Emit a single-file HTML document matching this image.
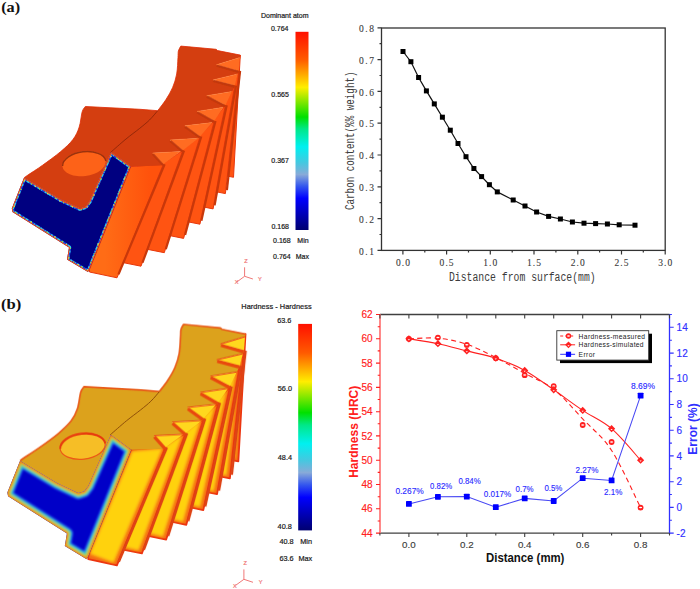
<!DOCTYPE html><html><head><meta charset="utf-8"><style>html,body{margin:0;padding:0;background:#fff;}svg{display:block;}text{font-family:"Liberation Sans",sans-serif;}</style></head><body>
<svg width="700" height="589" viewBox="0 0 700 589">
<rect width="700" height="589" fill="#fff"/>
<defs>
<linearGradient id="cbar" x1="0" y1="0" x2="0" y2="1"><stop offset="0" stop-color="#ff1000"/><stop offset="0.14" stop-color="#ff5a00"/><stop offset="0.28" stop-color="#ffee00"/><stop offset="0.43" stop-color="#00e000"/><stop offset="0.49" stop-color="#00e888"/><stop offset="0.58" stop-color="#00f0f0"/><stop offset="0.66" stop-color="#44c8e0"/><stop offset="0.72" stop-color="#88aad8"/><stop offset="0.78" stop-color="#3355ee"/><stop offset="0.84" stop-color="#0000ff"/><stop offset="1" stop-color="#000070"/></linearGradient>
<filter id="soft2" x="-20%" y="-20%" width="140%" height="140%"><feGaussianBlur stdDeviation="1.3"/></filter>
<linearGradient id="t1a" gradientUnits="userSpaceOnUse" x1="105" y1="0" x2="150" y2="0"><stop offset="0" stop-color="#ff6c16"/><stop offset="1" stop-color="#ff520c"/></linearGradient>
<filter id="soft05" x="-20%" y="-20%" width="140%" height="140%"><feGaussianBlur stdDeviation="0.45"/></filter>
<filter id="soft10" x="-20%" y="-20%" width="140%" height="140%"><feGaussianBlur stdDeviation="1.0"/></filter>
<filter id="soft" x="-20%" y="-20%" width="140%" height="140%"><feGaussianBlur stdDeviation="0.7"/></filter>
</defs>
<text x="1.2" y="12.4" font-weight="bold" font-size="15.5" fill="#111" textLength="19" lengthAdjust="spacingAndGlyphs" style="font-family:'Liberation Serif',serif">(a)</text>
<text x="1" y="309.2" style="font-family:'Liberation Serif',serif" font-weight="bold" font-size="15.5" fill="#111" textLength="20.3" lengthAdjust="spacingAndGlyphs">(b)</text>
<g><polygon points="240.3,55.1 233.5,177.3 225.82,175.76 237.3,70.9" fill="#ff5412" stroke="#e8380c" stroke-width="1" stroke-linejoin="round"/>
<polygon points="238.8,70.9 225.4,193.6 214.61,191.44 233.2,85.6" fill="#ff5412" stroke="#e8380c" stroke-width="1" stroke-linejoin="round"/>
<polygon points="234.7,85.6 213.1,208.9 202.09,206.7 223.9,105.3" fill="#ff5412" stroke="#e8380c" stroke-width="1" stroke-linejoin="round"/>
<polygon points="225.4,105.3 199.9,224.2 186.43,221.51 212.7,121" fill="#ff5412" stroke="#e8380c" stroke-width="1" stroke-linejoin="round"/>
<polygon points="214.2,121 183.6,238.4 168.06,235.29 198.5,136.5" fill="#ff5412" stroke="#e8380c" stroke-width="1" stroke-linejoin="round"/>
<polygon points="200,136.5 164.3,252.7 145.61,248.96 181.2,150.5" fill="#ff5412" stroke="#e8380c" stroke-width="1" stroke-linejoin="round"/>
<polygon points="182.7,150.5 141,266.2 121.69,262.34 161.8,164.3" fill="#ff5412" stroke="#e8380c" stroke-width="1" stroke-linejoin="round"/>
<polygon points="163.3,164.3 117,277.8 89.5,272 89.5,269.5 130.8,166.6" fill="url(#t1a)" stroke="#e8380c" stroke-width="1" stroke-linejoin="round"/>
<line x1="164.6" y1="164.3" x2="118.5" y2="274.3" stroke="#c8380a" stroke-width="2.2" />
<line x1="184" y1="150.5" x2="142.5" y2="262.7" stroke="#c8380a" stroke-width="2.2" />
<line x1="201.3" y1="136.5" x2="165.8" y2="249.2" stroke="#c8380a" stroke-width="2.2" />
<line x1="215.5" y1="121" x2="185.1" y2="234.9" stroke="#c8380a" stroke-width="2.2" />
<line x1="226.7" y1="105.3" x2="201.4" y2="220.7" stroke="#c8380a" stroke-width="2.2" />
<line x1="236" y1="85.6" x2="214.6" y2="205.4" stroke="#c8380a" stroke-width="2.2" />
<line x1="240.1" y1="70.9" x2="226.9" y2="190.1" stroke="#c8380a" stroke-width="2.2" />
<path d="M180.8,46.1L216.2,49.3L217.6,50.6L240.3,55.1L239.8,57.6L216.4,64.8L238.8,70.9L237.8,73.9L212.8,80L234.7,85.6L232,91.5L206.6,95.7L225.4,105.3L223.4,107.3L196.9,111.4L214.2,121L212.2,122.6L184.7,125.8L200,136.5L198.5,138.3L170,139.9L182.7,150.5L180.6,151.6L152.6,153.1L163.3,164.3L161,165.5L130.8,166.6L111.1,152.3L89.5,201.5L85.5,206.8L80,208.6L60,199.3L24,177.8C24.67,177.33 24.92,177.08 28,175C31.08,172.92 37.03,169.22 42.5,165.3C47.97,161.38 55.7,155.83 60.8,151.5C65.9,147.17 70.03,143.37 73.1,139.3C76.17,135.23 77.68,131.68 79.2,127.1C80.72,122.52 81.18,115.23 82.2,111.8C83.22,108.37 84.78,107.38 85.3,106.5L140,109.3L157.7,110.7C159.05,108.88 163.32,103.65 165.8,99.8C168.28,95.95 170.78,91.9 172.6,87.6C174.42,83.3 175.8,78.98 176.7,74C177.6,69.02 177.72,61.53 178,57.7C178.28,53.87 177.93,52.93 178.4,51C178.87,49.07 180.4,46.92 180.8,46.1Z" fill="#d43e10"/>
<path d="M157.7,110.7" fill="none" stroke="#e0300a" stroke-width="1" stroke-linejoin="round" filter="url(#soft)" opacity="0.85"/>
<path d="M157.7,110.7C159.05,108.88 163.32,103.65 165.8,99.8C168.28,95.95 170.78,91.9 172.6,87.6C174.42,83.3 175.8,78.98 176.7,74C177.6,69.02 177.72,61.53 178,57.7C178.28,53.87 177.93,52.93 178.4,51C178.87,49.07 180.4,46.92 180.8,46.1L216.2,49.3L217.6,50.6L240.3,55.1" fill="none" stroke="#e0300a" stroke-width="1" stroke-linejoin="round" filter="url(#soft)" opacity="0.85"/>
<path d="M24,177.8C24.67,177.33 24.92,177.08 28,175C31.08,172.92 37.03,169.22 42.5,165.3C47.97,161.38 55.7,155.83 60.8,151.5C65.9,147.17 70.03,143.37 73.1,139.3C76.17,135.23 77.68,131.68 79.2,127.1C80.72,122.52 81.18,115.23 82.2,111.8C83.22,108.37 84.78,107.38 85.3,106.5L140,109.3L157.7,110.7" fill="none" stroke="#e0300a" stroke-width="1" stroke-linejoin="round" filter="url(#soft)" opacity="0.85"/>
<polygon points="239.8,57.6 216.4,64.8 238.8,70.9" fill="#ff6c22"/>
<polyline points="216.67,65.7 238.62,71.8" fill="none" stroke="#c0380a" stroke-width="2.4" filter="url(#soft)" opacity="0.85"/>
<polyline points="239.8,57.6 216.4,64.8" fill="none" stroke="#ff7a30" stroke-width="0.6" stroke-linejoin="round" filter="url(#soft)" opacity="0.85"/>
<polygon points="237.8,73.9 212.8,80 234.7,85.6" fill="#ff6c22"/>
<polyline points="213.07,80.9 234.52,86.5" fill="none" stroke="#c0380a" stroke-width="2.4" filter="url(#soft)" opacity="0.85"/>
<polyline points="237.8,73.9 212.8,80" fill="none" stroke="#ff7a30" stroke-width="0.6" stroke-linejoin="round" filter="url(#soft)" opacity="0.85"/>
<polygon points="232,91.5 206.6,95.7 225.4,105.3" fill="#ff6c22"/>
<polyline points="206.87,96.6 225.22,106.2" fill="none" stroke="#c0380a" stroke-width="2.4" filter="url(#soft)" opacity="0.85"/>
<polyline points="232,91.5 206.6,95.7" fill="none" stroke="#ff7a30" stroke-width="0.6" stroke-linejoin="round" filter="url(#soft)" opacity="0.85"/>
<polygon points="223.4,107.3 196.9,111.4 214.2,121" fill="#ff6c22"/>
<polyline points="197.17,112.3 214.02,121.9" fill="none" stroke="#c0380a" stroke-width="2.4" filter="url(#soft)" opacity="0.85"/>
<polyline points="223.4,107.3 196.9,111.4" fill="none" stroke="#ff7a30" stroke-width="0.6" stroke-linejoin="round" filter="url(#soft)" opacity="0.85"/>
<polygon points="212.2,122.6 184.7,125.8 200,136.5" fill="#ff6c22"/>
<polyline points="184.97,126.7 199.82,137.4" fill="none" stroke="#c0380a" stroke-width="2.4" filter="url(#soft)" opacity="0.85"/>
<polyline points="212.2,122.6 184.7,125.8" fill="none" stroke="#ff7a30" stroke-width="0.6" stroke-linejoin="round" filter="url(#soft)" opacity="0.85"/>
<polygon points="198.5,138.3 170,139.9 182.7,150.5" fill="#ff6c22"/>
<polyline points="170.27,140.8 182.52,151.4" fill="none" stroke="#c0380a" stroke-width="2.4" filter="url(#soft)" opacity="0.85"/>
<polyline points="198.5,138.3 170,139.9" fill="none" stroke="#ff7a30" stroke-width="0.6" stroke-linejoin="round" filter="url(#soft)" opacity="0.85"/>
<polygon points="180.6,151.6 152.6,153.1 163.3,164.3" fill="#ff6c22"/>
<polyline points="152.87,154 163.12,165.2" fill="none" stroke="#c0380a" stroke-width="2.4" filter="url(#soft)" opacity="0.85"/>
<polyline points="180.6,151.6 152.6,153.1" fill="none" stroke="#ff7a30" stroke-width="0.6" stroke-linejoin="round" filter="url(#soft)" opacity="0.85"/>
<path d="M157.7,110.7C156.33,112.25 152.53,117.03 149.5,120C146.47,122.97 143.42,125.33 139.5,128.5C135.58,131.67 130.83,135 126,139C121.17,143 113.08,150.25 110.5,152.5" fill="none" stroke="#7a1e06" stroke-width="0.7"/>
<ellipse cx="84" cy="163.5" rx="21.8" ry="12.5" transform="rotate(-7 84 163.5)" fill="#fd6218" stroke="none" stroke-width="0"/>
<path d="M62.6,166 A21.8,12.5 -7 0 1 105.8,160.8" transform="rotate(0)" fill="none" stroke="#8a2a0a" stroke-width="1.4" filter="url(#soft)" opacity="0.85"/>
<clipPath id="lca"><polygon points="24,177.8 60,199.3 80,208.6 85.5,206.8 89.5,201.5 111.1,152.3 130.8,166.6 89.5,269.5 88,272 67,259.5 69,247.5 12.5,212 11.8,208.5 24,177.8"/></clipPath>
<polygon points="24,177.8 60,199.3 80,208.6 85.5,206.8 89.5,201.5 111.1,152.3 130.8,166.6 89.5,269.5 88,272 67,259.5 69,247.5 12.5,212 11.8,208.5 24,177.8" fill="#000080"/>
<g clip-path="url(#lca)" filter="url(#soft05)">
<polygon points="24,177.8 60,199.3 80,208.6 85.5,206.8 89.5,201.5 111.1,152.3 130.8,166.6 89.5,269.5 88,272 67,259.5 69,247.5 12.5,212 11.8,208.5 24,177.8" fill="none" stroke="#1840e0" stroke-width="4.6" stroke-linejoin="round" />
<polygon points="24,177.8 60,199.3 80,208.6 85.5,206.8 89.5,201.5 111.1,152.3 130.8,166.6 89.5,269.5 88,272 67,259.5 69,247.5 12.5,212 11.8,208.5 24,177.8" fill="none" stroke="#30d8e0" stroke-width="4.2" stroke-linejoin="round" stroke-dasharray="2,2,3,1.5,1,3"/>
<polygon points="24,177.8 60,199.3 80,208.6 85.5,206.8 89.5,201.5 111.1,152.3 130.8,166.6 89.5,269.5 88,272 67,259.5 69,247.5 12.5,212 11.8,208.5 24,177.8" fill="none" stroke="#90e040" stroke-width="4.2" stroke-linejoin="round" stroke-dasharray="1.2,8"/>
<polygon points="24,177.8 60,199.3 80,208.6 85.5,206.8 89.5,201.5 111.1,152.3 130.8,166.6 89.5,269.5 88,272 67,259.5 69,247.5 12.5,212 11.8,208.5 24,177.8" fill="none" stroke="#ffe040" stroke-width="4.2" stroke-linejoin="round" stroke-dasharray="1,13"/>
<polygon points="24,177.8 60,199.3 80,208.6 85.5,206.8 89.5,201.5 111.1,152.3 130.8,166.6 89.5,269.5 88,272 67,259.5 69,247.5 12.5,212 11.8,208.5 24,177.8" fill="none" stroke="#ff4a10" stroke-width="1.9" stroke-linejoin="round" />
</g></g>
<g transform="matrix(1.04183,0.00597,-0.00075,1.04166,-4.785,275.337)"><polygon points="240.3,55.1 233.5,177.3 225.82,175.76 237.3,70.9" fill="#f46a16" stroke="#ec3410" stroke-width="1.7" stroke-linejoin="round"/>
<polygon points="237.7,55.88 230.38,174.7 225.82,173.16 237.3,70.9" fill="#ffd20e" filter="url(#soft2)"/>
<polygon points="238.8,70.9 225.4,193.6 214.61,191.44 233.2,85.6" fill="#f46a16" stroke="#ec3410" stroke-width="1.7" stroke-linejoin="round"/>
<polygon points="236.2,71.68 222.28,191 214.61,188.84 233.2,85.6" fill="#ffd20e" filter="url(#soft2)"/>
<polygon points="234.7,85.6 213.1,208.9 202.09,206.7 223.9,105.3" fill="#f46a16" stroke="#ec3410" stroke-width="1.7" stroke-linejoin="round"/>
<polygon points="232.1,86.38 209.98,206.3 202.09,204.1 223.9,105.3" fill="#ffd20e" filter="url(#soft2)"/>
<polygon points="225.4,105.3 199.9,224.2 186.43,221.51 212.7,121" fill="#f46a16" stroke="#ec3410" stroke-width="1.7" stroke-linejoin="round"/>
<polygon points="222.8,106.08 196.78,221.6 186.43,218.91 212.7,121" fill="#ffd20e" filter="url(#soft2)"/>
<polygon points="214.2,121 183.6,238.4 168.06,235.29 198.5,136.5" fill="#f46a16" stroke="#ec3410" stroke-width="1.7" stroke-linejoin="round"/>
<polygon points="211.6,121.78 180.48,235.8 168.06,232.69 198.5,136.5" fill="#ffd20e" filter="url(#soft2)"/>
<polygon points="200,136.5 164.3,252.7 145.61,248.96 181.2,150.5" fill="#f46a16" stroke="#ec3410" stroke-width="1.7" stroke-linejoin="round"/>
<polygon points="197.4,137.28 161.18,250.1 145.61,246.36 181.2,150.5" fill="#ffd20e" filter="url(#soft2)"/>
<polygon points="182.7,150.5 141,266.2 121.69,262.34 161.8,164.3" fill="#f46a16" stroke="#ec3410" stroke-width="1.7" stroke-linejoin="round"/>
<polygon points="180.1,151.28 137.88,263.6 121.69,259.74 161.8,164.3" fill="#ffd20e" filter="url(#soft2)"/>
<polygon points="163.3,164.3 117,277.8 89.5,272 89.5,269.5 130.8,166.6" fill="#f46a16" stroke="#ec3410" stroke-width="1.7" stroke-linejoin="round"/>
<polygon points="160.7,165.08 113.88,275.2 91.06,266.9 131.58,167.9" fill="#ffd20e" filter="url(#soft2)"/>
<line x1="164.8" y1="164.3" x2="118.7" y2="274.3" stroke="#de4212" stroke-width="2.6" filter="url(#soft)"/>
<line x1="184.2" y1="150.5" x2="142.7" y2="262.7" stroke="#de4212" stroke-width="2.6" filter="url(#soft)"/>
<line x1="201.5" y1="136.5" x2="166" y2="249.2" stroke="#de4212" stroke-width="2.6" filter="url(#soft)"/>
<line x1="215.7" y1="121" x2="185.3" y2="234.9" stroke="#de4212" stroke-width="2.6" filter="url(#soft)"/>
<line x1="226.9" y1="105.3" x2="201.6" y2="220.7" stroke="#de4212" stroke-width="2.6" filter="url(#soft)"/>
<line x1="236.2" y1="85.6" x2="214.8" y2="205.4" stroke="#de4212" stroke-width="2.6" filter="url(#soft)"/>
<line x1="240.3" y1="70.9" x2="227.1" y2="190.1" stroke="#de4212" stroke-width="2.6" filter="url(#soft)"/>
<path d="M180.8,46.1L216.2,49.3L217.6,50.6L240.3,55.1L239.8,57.6L216.4,64.8L238.8,70.9L237.8,73.9L212.8,80L234.7,85.6L232,91.5L206.6,95.7L225.4,105.3L223.4,107.3L196.9,111.4L214.2,121L212.2,122.6L184.7,125.8L200,136.5L198.5,138.3L170,139.9L182.7,150.5L180.6,151.6L152.6,153.1L163.3,164.3L161,165.5L130.8,166.6L111.1,152.3L89.5,201.5L85.5,206.8L80,208.6L60,199.3L24,177.8C24.67,177.33 24.92,177.08 28,175C31.08,172.92 37.03,169.22 42.5,165.3C47.97,161.38 55.7,155.83 60.8,151.5C65.9,147.17 70.03,143.37 73.1,139.3C76.17,135.23 77.68,131.68 79.2,127.1C80.72,122.52 81.18,115.23 82.2,111.8C83.22,108.37 84.78,107.38 85.3,106.5L140,109.3L157.7,110.7C159.05,108.88 163.32,103.65 165.8,99.8C168.28,95.95 170.78,91.9 172.6,87.6C174.42,83.3 175.8,78.98 176.7,74C177.6,69.02 177.72,61.53 178,57.7C178.28,53.87 177.93,52.93 178.4,51C178.87,49.07 180.4,46.92 180.8,46.1Z" fill="#dca21c"/>
<path d="M157.7,110.7" fill="none" stroke="#e85a18" stroke-width="1.6" stroke-linejoin="round" filter="url(#soft)"/>
<path d="M157.7,110.7C159.05,108.88 163.32,103.65 165.8,99.8C168.28,95.95 170.78,91.9 172.6,87.6C174.42,83.3 175.8,78.98 176.7,74C177.6,69.02 177.72,61.53 178,57.7C178.28,53.87 177.93,52.93 178.4,51C178.87,49.07 180.4,46.92 180.8,46.1L216.2,49.3L217.6,50.6L240.3,55.1" fill="none" stroke="#e85a18" stroke-width="1.6" stroke-linejoin="round" filter="url(#soft)"/>
<path d="M24,177.8C24.67,177.33 24.92,177.08 28,175C31.08,172.92 37.03,169.22 42.5,165.3C47.97,161.38 55.7,155.83 60.8,151.5C65.9,147.17 70.03,143.37 73.1,139.3C76.17,135.23 77.68,131.68 79.2,127.1C80.72,122.52 81.18,115.23 82.2,111.8C83.22,108.37 84.78,107.38 85.3,106.5L140,109.3L157.7,110.7" fill="none" stroke="#e85a18" stroke-width="1.6" stroke-linejoin="round" filter="url(#soft)"/>
<polygon points="239.8,57.6 216.4,64.8 238.8,70.9" fill="#ffd81e"/>
<polyline points="216.76,66 238.56,72.1" fill="none" stroke="#e84a10" stroke-width="3.2" filter="url(#soft)"/>
<polyline points="239.8,57.6 216.4,64.8" fill="none" stroke="#e83a10" stroke-width="1" stroke-linejoin="round" filter="url(#soft)"/>
<polygon points="237.8,73.9 212.8,80 234.7,85.6" fill="#ffd81e"/>
<polyline points="213.16,81.2 234.46,86.8" fill="none" stroke="#e84a10" stroke-width="3.2" filter="url(#soft)"/>
<polyline points="237.8,73.9 212.8,80" fill="none" stroke="#e83a10" stroke-width="1" stroke-linejoin="round" filter="url(#soft)"/>
<polygon points="232,91.5 206.6,95.7 225.4,105.3" fill="#ffd81e"/>
<polyline points="206.96,96.9 225.16,106.5" fill="none" stroke="#e84a10" stroke-width="3.2" filter="url(#soft)"/>
<polyline points="232,91.5 206.6,95.7" fill="none" stroke="#e83a10" stroke-width="1" stroke-linejoin="round" filter="url(#soft)"/>
<polygon points="223.4,107.3 196.9,111.4 214.2,121" fill="#ffd81e"/>
<polyline points="197.26,112.6 213.96,122.2" fill="none" stroke="#e84a10" stroke-width="3.2" filter="url(#soft)"/>
<polyline points="223.4,107.3 196.9,111.4" fill="none" stroke="#e83a10" stroke-width="1" stroke-linejoin="round" filter="url(#soft)"/>
<polygon points="212.2,122.6 184.7,125.8 200,136.5" fill="#ffd81e"/>
<polyline points="185.06,127 199.76,137.7" fill="none" stroke="#e84a10" stroke-width="3.2" filter="url(#soft)"/>
<polyline points="212.2,122.6 184.7,125.8" fill="none" stroke="#e83a10" stroke-width="1" stroke-linejoin="round" filter="url(#soft)"/>
<polygon points="198.5,138.3 170,139.9 182.7,150.5" fill="#ffd81e"/>
<polyline points="170.36,141.1 182.46,151.7" fill="none" stroke="#e84a10" stroke-width="3.2" filter="url(#soft)"/>
<polyline points="198.5,138.3 170,139.9" fill="none" stroke="#e83a10" stroke-width="1" stroke-linejoin="round" filter="url(#soft)"/>
<polygon points="180.6,151.6 152.6,153.1 163.3,164.3" fill="#ffd81e"/>
<polyline points="152.96,154.3 163.06,165.5" fill="none" stroke="#e84a10" stroke-width="3.2" filter="url(#soft)"/>
<polyline points="180.6,151.6 152.6,153.1" fill="none" stroke="#e83a10" stroke-width="1" stroke-linejoin="round" filter="url(#soft)"/>
<path d="M157.7,110.7C156.33,112.25 152.53,117.03 149.5,120C146.47,122.97 143.42,125.33 139.5,128.5C135.58,131.67 130.83,135 126,139C121.17,143 113.08,150.25 110.5,152.5" fill="none" stroke="#8a4a08" stroke-width="0.9"/>
<ellipse cx="84" cy="163.5" rx="21.8" ry="12.5" transform="rotate(-7 84 163.5)" fill="#f6be26" stroke="#ec5a16" stroke-width="1.2"/>
<path d="M62.6,166 A21.8,12.5 -7 0 1 105.8,160.8" transform="rotate(0)" fill="none" stroke="#e63a10" stroke-width="1.8" filter="url(#soft)"/>
<clipPath id="lcb"><polygon points="24,177.8 60,199.3 80,208.6 85.5,206.8 89.5,201.5 111.1,152.3 130.8,166.6 89.5,269.5 88,272 67,259.5 69,247.5 12.5,212 11.8,208.5 24,177.8"/></clipPath>
<polygon points="24,177.8 60,199.3 80,208.6 85.5,206.8 89.5,201.5 111.1,152.3 130.8,166.6 89.5,269.5 88,272 67,259.5 69,247.5 12.5,212 11.8,208.5 24,177.8" fill="#0000c8"/>
<g clip-path="url(#lcb)" filter="url(#soft10)">
<polygon points="24,177.8 60,199.3 80,208.6 85.5,206.8 89.5,201.5 111.1,152.3 130.8,166.6 89.5,269.5 88,272 67,259.5 69,247.5 12.5,212 11.8,208.5 24,177.8" fill="none" stroke="#3060f0" stroke-width="11.5" stroke-linejoin="round" />
<polygon points="24,177.8 60,199.3 80,208.6 85.5,206.8 89.5,201.5 111.1,152.3 130.8,166.6 89.5,269.5 88,272 67,259.5 69,247.5 12.5,212 11.8,208.5 24,177.8" fill="none" stroke="#30c0f0" stroke-width="9.4" stroke-linejoin="round" />
<polygon points="24,177.8 60,199.3 80,208.6 85.5,206.8 89.5,201.5 111.1,152.3 130.8,166.6 89.5,269.5 88,272 67,259.5 69,247.5 12.5,212 11.8,208.5 24,177.8" fill="none" stroke="#38d078" stroke-width="7.4" stroke-linejoin="round" />
<polygon points="24,177.8 60,199.3 80,208.6 85.5,206.8 89.5,201.5 111.1,152.3 130.8,166.6 89.5,269.5 88,272 67,259.5 69,247.5 12.5,212 11.8,208.5 24,177.8" fill="none" stroke="#d0d830" stroke-width="5.2" stroke-linejoin="round" />
<polygon points="24,177.8 60,199.3 80,208.6 85.5,206.8 89.5,201.5 111.1,152.3 130.8,166.6 89.5,269.5 88,272 67,259.5 69,247.5 12.5,212 11.8,208.5 24,177.8" fill="none" stroke="#f0a020" stroke-width="3.2" stroke-linejoin="round" />
<polygon points="24,177.8 60,199.3 80,208.6 85.5,206.8 89.5,201.5 111.1,152.3 130.8,166.6 89.5,269.5 88,272 67,259.5 69,247.5 12.5,212 11.8,208.5 24,177.8" fill="none" stroke="#f06018" stroke-width="1.6" stroke-linejoin="round" />
</g></g>
<rect x="295.5" y="31.8" width="13" height="198.2" fill="url(#cbar)"/>
<rect x="298.2" y="323.9" width="13.8" height="206.5" fill="url(#cbar)"/>
<text x="261" y="17.8" font-size="7" text-anchor="start" fill="#1a1a1a" stroke="#1a1a1a" stroke-width="0.2" >Dominant atom</text>
<text x="288.5" y="30.5" font-size="7" text-anchor="end" fill="#1a1a1a" stroke="#1a1a1a" stroke-width="0.2" >0.764</text>
<text x="288.9" y="97.4" font-size="7" text-anchor="end" fill="#1a1a1a" stroke="#1a1a1a" stroke-width="0.2" >0.565</text>
<text x="288.9" y="162.7" font-size="7" text-anchor="end" fill="#1a1a1a" stroke="#1a1a1a" stroke-width="0.2" >0.367</text>
<text x="289" y="229.4" font-size="7" text-anchor="end" fill="#1a1a1a" stroke="#1a1a1a" stroke-width="0.2" >0.168</text>
<text x="290.6" y="243.1" font-size="7" text-anchor="end" fill="#1a1a1a" stroke="#1a1a1a" stroke-width="0.2" >0.168</text>
<text x="308.6" y="243.1" font-size="7" text-anchor="end" fill="#1a1a1a" stroke="#1a1a1a" stroke-width="0.2" >Min</text>
<text x="290.6" y="258.9" font-size="7" text-anchor="end" fill="#1a1a1a" stroke="#1a1a1a" stroke-width="0.2" >0.764</text>
<text x="308.9" y="258.9" font-size="7" text-anchor="end" fill="#1a1a1a" stroke="#1a1a1a" stroke-width="0.2" >Max</text>
<text x="241.3" y="308.5" font-size="7.4" text-anchor="start" fill="#1a1a1a" stroke="#1a1a1a" stroke-width="0.2" textLength="70.3">Hardness - Hardness</text>
<text x="291.4" y="322.6" font-size="7.3" text-anchor="end" fill="#1a1a1a" stroke="#1a1a1a" stroke-width="0.2" >63.6</text>
<text x="292" y="391.4" font-size="7.3" text-anchor="end" fill="#1a1a1a" stroke="#1a1a1a" stroke-width="0.2" >56.0</text>
<text x="292" y="460" font-size="7.3" text-anchor="end" fill="#1a1a1a" stroke="#1a1a1a" stroke-width="0.2" >48.4</text>
<text x="291.8" y="529.4" font-size="7.3" text-anchor="end" fill="#1a1a1a" stroke="#1a1a1a" stroke-width="0.2" >40.8</text>
<text x="293.6" y="544.1" font-size="7.3" text-anchor="end" fill="#1a1a1a" stroke="#1a1a1a" stroke-width="0.2" >40.8</text>
<text x="312" y="544.1" font-size="7.3" text-anchor="end" fill="#1a1a1a" stroke="#1a1a1a" stroke-width="0.2" >Min</text>
<text x="293.6" y="560.5" font-size="7.3" text-anchor="end" fill="#1a1a1a" stroke="#1a1a1a" stroke-width="0.2" >63.6</text>
<text x="312.2" y="560.5" font-size="7.3" text-anchor="end" fill="#1a1a1a" stroke="#1a1a1a" stroke-width="0.2" >Max</text>
<g stroke="#f07878" stroke-width="1" fill="none"><line x1="244.6" y1="276.3" x2="244.6" y2="267.3"/><line x1="244.6" y1="276.3" x2="252.9" y2="279"/><line x1="244.6" y1="276.3" x2="237.1" y2="281.8"/></g>
<text x="244.3" y="263" font-size="5.6" fill="#f07878" stroke="#f07878" stroke-width="0.2">Z</text>
<text x="258.1" y="280.5" font-size="5.6" fill="#f07878" stroke="#f07878" stroke-width="0.2">Y</text>
<text x="234.8" y="284.3" font-size="5.6" fill="#f07878" stroke="#f07878" stroke-width="0.2">X</text>
<g stroke="#f07878" stroke-width="1" fill="none"><line x1="243.9" y1="579.3" x2="243.9" y2="569.4"/><line x1="243.9" y1="579.3" x2="253" y2="582.3"/><line x1="243.9" y1="579.3" x2="235.7" y2="585.3"/></g>
<text x="243.6" y="564.7" font-size="5.6" fill="#f07878" stroke="#f07878" stroke-width="0.2">Z</text>
<text x="258.8" y="583.9" font-size="5.6" fill="#f07878" stroke="#f07878" stroke-width="0.2">Y</text>
<text x="233.1" y="588.1" font-size="5.6" fill="#f07878" stroke="#f07878" stroke-width="0.2">X</text>
<rect x="381.5" y="28" width="283.7" height="222.4" fill="none" stroke="#333" stroke-width="1.3"/>
<path d="M381.5,250.4h-4M381.5,234.5h-2M381.5,218.6h-4M381.5,202.7h-2M381.5,186.8h-4M381.5,170.9h-2M381.5,155h-4M381.5,139.1h-2M381.5,123.2h-4M381.5,107.3h-2M381.5,91.4h-4M381.5,75.5h-2M381.5,59.6h-4M381.5,43.7h-2M381.5,27.8h-4M402.9,250.4v4M424.8,250.4v2.2M446.6,250.4v4M468.5,250.4v2.2M490.3,250.4v4M512.2,250.4v2.2M534,250.4v4M555.9,250.4v2.2M577.8,250.4v4M599.6,250.4v2.2M621.5,250.4v4M643.3,250.4v2.2M665.2,250.4v4" stroke="#333" stroke-width="1.2" fill="none"/>
<text x="374" y="254.5" font-size="9.5" text-anchor="end" fill="#3a3a3a" stroke="#3a3a3a" stroke-width="0.1" style="font-family:'Liberation Serif',serif" textLength="15" lengthAdjust="spacing">0.1</text>
<text x="374" y="222.7" font-size="9.5" text-anchor="end" fill="#3a3a3a" stroke="#3a3a3a" stroke-width="0.1" style="font-family:'Liberation Serif',serif" textLength="15" lengthAdjust="spacing">0.2</text>
<text x="374" y="190.9" font-size="9.5" text-anchor="end" fill="#3a3a3a" stroke="#3a3a3a" stroke-width="0.1" style="font-family:'Liberation Serif',serif" textLength="15" lengthAdjust="spacing">0.3</text>
<text x="374" y="159.1" font-size="9.5" text-anchor="end" fill="#3a3a3a" stroke="#3a3a3a" stroke-width="0.1" style="font-family:'Liberation Serif',serif" textLength="15" lengthAdjust="spacing">0.4</text>
<text x="374" y="127.3" font-size="9.5" text-anchor="end" fill="#3a3a3a" stroke="#3a3a3a" stroke-width="0.1" style="font-family:'Liberation Serif',serif" textLength="15" lengthAdjust="spacing">0.5</text>
<text x="374" y="95.5" font-size="9.5" text-anchor="end" fill="#3a3a3a" stroke="#3a3a3a" stroke-width="0.1" style="font-family:'Liberation Serif',serif" textLength="15" lengthAdjust="spacing">0.6</text>
<text x="374" y="63.7" font-size="9.5" text-anchor="end" fill="#3a3a3a" stroke="#3a3a3a" stroke-width="0.1" style="font-family:'Liberation Serif',serif" textLength="15" lengthAdjust="spacing">0.7</text>
<text x="374" y="31.9" font-size="9.5" text-anchor="end" fill="#3a3a3a" stroke="#3a3a3a" stroke-width="0.1" style="font-family:'Liberation Serif',serif" textLength="15" lengthAdjust="spacing">0.8</text>
<text x="402.9" y="266" font-size="9.5" text-anchor="middle" fill="#3a3a3a" stroke="#3a3a3a" stroke-width="0.1" style="font-family:'Liberation Serif',serif" textLength="14" lengthAdjust="spacing">0.0</text>
<text x="446.6" y="266" font-size="9.5" text-anchor="middle" fill="#3a3a3a" stroke="#3a3a3a" stroke-width="0.1" style="font-family:'Liberation Serif',serif" textLength="14" lengthAdjust="spacing">0.5</text>
<text x="490.3" y="266" font-size="9.5" text-anchor="middle" fill="#3a3a3a" stroke="#3a3a3a" stroke-width="0.1" style="font-family:'Liberation Serif',serif" textLength="14" lengthAdjust="spacing">1.0</text>
<text x="534" y="266" font-size="9.5" text-anchor="middle" fill="#3a3a3a" stroke="#3a3a3a" stroke-width="0.1" style="font-family:'Liberation Serif',serif" textLength="14" lengthAdjust="spacing">1.5</text>
<text x="577.8" y="266" font-size="9.5" text-anchor="middle" fill="#3a3a3a" stroke="#3a3a3a" stroke-width="0.1" style="font-family:'Liberation Serif',serif" textLength="14" lengthAdjust="spacing">2.0</text>
<text x="621.5" y="266" font-size="9.5" text-anchor="middle" fill="#3a3a3a" stroke="#3a3a3a" stroke-width="0.1" style="font-family:'Liberation Serif',serif" textLength="14" lengthAdjust="spacing">2.5</text>
<text x="665.2" y="266" font-size="9.5" text-anchor="middle" fill="#3a3a3a" stroke="#3a3a3a" stroke-width="0.1" style="font-family:'Liberation Serif',serif" textLength="14" lengthAdjust="spacing">3.0</text>
<text x="449" y="281" font-size="12.5" fill="#3c3c3c" style="font-family:'Liberation Mono',monospace" textLength="146.7" lengthAdjust="spacingAndGlyphs">Distance from surface(mm)</text>
<text transform="translate(354,210) rotate(-90)" x="0" y="0" font-size="12.5" fill="#3c3c3c" style="font-family:'Liberation Mono',monospace" textLength="138.5" lengthAdjust="spacingAndGlyphs">Carbon content(%% weight)</text>
<polyline points="403,51.5 410.9,61.7 418.6,77.5 426.4,90.9 434.3,103.9 442.4,117.2 450.3,130.2 458,143.5 466,156.7 473.9,168.5 481.6,176.6 489.4,184.7 497.3,191.9 513.2,200 525,206 536.6,212 548.6,216.4 560.4,219 572.4,222 584,223.2 595.6,223.6 607.4,224 619.2,224.8 635,225.2" fill="none" stroke="#111" stroke-width="1.2"/>
<g fill="#000"><rect x="400.5" y="49" width="5" height="5"/><rect x="408.4" y="59.2" width="5" height="5"/><rect x="416.1" y="75" width="5" height="5"/><rect x="423.9" y="88.4" width="5" height="5"/><rect x="431.8" y="101.4" width="5" height="5"/><rect x="439.9" y="114.7" width="5" height="5"/><rect x="447.8" y="127.7" width="5" height="5"/><rect x="455.5" y="141" width="5" height="5"/><rect x="463.5" y="154.2" width="5" height="5"/><rect x="471.4" y="166" width="5" height="5"/><rect x="479.1" y="174.1" width="5" height="5"/><rect x="486.9" y="182.2" width="5" height="5"/><rect x="494.8" y="189.4" width="5" height="5"/><rect x="510.7" y="197.5" width="5" height="5"/><rect x="522.5" y="203.5" width="5" height="5"/><rect x="534.1" y="209.5" width="5" height="5"/><rect x="546.1" y="213.9" width="5" height="5"/><rect x="557.9" y="216.5" width="5" height="5"/><rect x="569.9" y="219.5" width="5" height="5"/><rect x="581.5" y="220.7" width="5" height="5"/><rect x="593.1" y="221.1" width="5" height="5"/><rect x="604.9" y="221.5" width="5" height="5"/><rect x="616.7" y="222.3" width="5" height="5"/><rect x="632.5" y="222.7" width="5" height="5"/></g>
<line x1="380" y1="314.5" x2="669.5" y2="314.5" stroke="#404040" stroke-width="1.3"/>
<line x1="380" y1="533.1" x2="669.5" y2="533.1" stroke="#404040" stroke-width="1.3"/>
<line x1="380" y1="314" x2="380" y2="533.6" stroke="#ff6c6c" stroke-width="1.6"/>
<line x1="669.5" y1="314" x2="669.5" y2="533.6" stroke="#3030ff" stroke-width="1.3"/>
<path d="M380,533.1h-4M380,521h-2.3M380,508.8h-4M380,496.7h-2.3M380,484.5h-4M380,472.4h-2.3M380,460.2h-4M380,448.1h-2.3M380,435.9h-4M380,423.8h-2.3M380,411.7h-4M380,399.5h-2.3M380,387.4h-4M380,375.2h-2.3M380,363.1h-4M380,350.9h-2.3M380,338.8h-4M380,326.7h-2.3M380,314.5h-4" stroke="#ff2020" stroke-width="1.1" fill="none"/>
<path d="M669.5,533.1h4.2M669.5,520.2h2.4M669.5,507.4h4.2M669.5,494.5h2.4M669.5,481.7h4.2M669.5,468.8h2.4M669.5,455.9h4.2M669.5,443.1h2.4M669.5,430.2h4.2M669.5,417.4h2.4M669.5,404.5h4.2M669.5,391.6h2.4M669.5,378.8h4.2M669.5,365.9h2.4M669.5,353.1h4.2M669.5,340.2h2.4M669.5,327.3h4.2M669.5,314.5h2.4" stroke="#3030ff" stroke-width="1.1" fill="none"/>
<path d="M379.9,533.1v2.3M379.9,314.5v4M408.9,533.1v4M408.9,314.5v4M437.9,533.1v2.3M437.9,314.5v4M466.8,533.1v4M466.8,314.5v4M495.8,533.1v2.3M495.8,314.5v4M524.7,533.1v4M524.7,314.5v4M553.7,533.1v2.3M553.7,314.5v4M582.7,533.1v4M582.7,314.5v4M611.6,533.1v2.3M611.6,314.5v4M640.6,533.1v4M640.6,314.5v4M669.5,533.1v2.3M669.5,314.5v4" stroke="#404040" stroke-width="1.1" fill="none"/>
<text x="372.6" y="536.7" font-size="10" text-anchor="end" fill="#ff2020" stroke="#ff2020" stroke-width="0.15">44</text>
<text x="372.6" y="512.4" font-size="10" text-anchor="end" fill="#ff2020" stroke="#ff2020" stroke-width="0.15">46</text>
<text x="372.6" y="488.1" font-size="10" text-anchor="end" fill="#ff2020" stroke="#ff2020" stroke-width="0.15">48</text>
<text x="372.6" y="463.8" font-size="10" text-anchor="end" fill="#ff2020" stroke="#ff2020" stroke-width="0.15">50</text>
<text x="372.6" y="439.5" font-size="10" text-anchor="end" fill="#ff2020" stroke="#ff2020" stroke-width="0.15">52</text>
<text x="372.6" y="415.3" font-size="10" text-anchor="end" fill="#ff2020" stroke="#ff2020" stroke-width="0.15">54</text>
<text x="372.6" y="391" font-size="10" text-anchor="end" fill="#ff2020" stroke="#ff2020" stroke-width="0.15">56</text>
<text x="372.6" y="366.7" font-size="10" text-anchor="end" fill="#ff2020" stroke="#ff2020" stroke-width="0.15">58</text>
<text x="372.6" y="342.4" font-size="10" text-anchor="end" fill="#ff2020" stroke="#ff2020" stroke-width="0.15">60</text>
<text x="372.6" y="318.1" font-size="10" text-anchor="end" fill="#ff2020" stroke="#ff2020" stroke-width="0.15">62</text>
<text x="676.6" y="536.7" font-size="10" fill="#3030ff" stroke="#3030ff" stroke-width="0.15">-2</text>
<text x="676.6" y="511" font-size="10" fill="#3030ff" stroke="#3030ff" stroke-width="0.15">0</text>
<text x="676.6" y="485.3" font-size="10" fill="#3030ff" stroke="#3030ff" stroke-width="0.15">2</text>
<text x="676.6" y="459.5" font-size="10" fill="#3030ff" stroke="#3030ff" stroke-width="0.15">4</text>
<text x="676.6" y="433.8" font-size="10" fill="#3030ff" stroke="#3030ff" stroke-width="0.15">6</text>
<text x="676.6" y="408.1" font-size="10" fill="#3030ff" stroke="#3030ff" stroke-width="0.15">8</text>
<text x="676.6" y="382.4" font-size="10" fill="#3030ff" stroke="#3030ff" stroke-width="0.15">10</text>
<text x="676.6" y="356.7" font-size="10" fill="#3030ff" stroke="#3030ff" stroke-width="0.15">12</text>
<text x="676.6" y="330.9" font-size="10" fill="#3030ff" stroke="#3030ff" stroke-width="0.15">14</text>
<text x="408.9" y="548.2" font-size="9.8" text-anchor="middle" fill="#3a3a3a" stroke="#3a3a3a" stroke-width="0.12">0.0</text>
<text x="466.8" y="548.2" font-size="9.8" text-anchor="middle" fill="#3a3a3a" stroke="#3a3a3a" stroke-width="0.12">0.2</text>
<text x="524.7" y="548.2" font-size="9.8" text-anchor="middle" fill="#3a3a3a" stroke="#3a3a3a" stroke-width="0.12">0.4</text>
<text x="582.7" y="548.2" font-size="9.8" text-anchor="middle" fill="#3a3a3a" stroke="#3a3a3a" stroke-width="0.12">0.6</text>
<text x="640.6" y="548.2" font-size="9.8" text-anchor="middle" fill="#3a3a3a" stroke="#3a3a3a" stroke-width="0.12">0.8</text>
<text x="486" y="561.6" font-size="12" font-weight="bold" fill="#111" textLength="78.4" lengthAdjust="spacingAndGlyphs">Distance (mm)</text>
<text transform="translate(358,431.8) rotate(-90)" font-size="12" font-weight="bold" text-anchor="middle" fill="#ff2020">Hardness (HRC)</text>
<text transform="translate(697,429) rotate(-90)" font-size="12" font-weight="bold" text-anchor="middle" fill="#3030ff">Error (%)</text>
<path d="M408.9,338.8C413.7,338.7 428.2,337.3 437.9,338.2C447.5,339.1 457.2,341 466.8,344.3C476.5,347.5 486.1,352.8 495.8,357.6C505.4,362.5 515.1,368.1 524.7,373.4C534.4,378.7 544,381.6 553.7,389.2C563.4,396.8 573,408.7 582.7,418.9C592.3,429.2 602,435.7 611.6,450.5C621.3,465.3 635.8,498.1 640.6,507.6" fill="none" stroke="#ff2020" stroke-width="1.1" stroke-dasharray="5,3.5"/>
<path d="M408.9,338.8C413.7,339.6 428.2,341.6 437.9,343.7C447.5,345.7 457.2,348.5 466.8,350.9C476.5,353.4 486.1,355 495.8,358.2C505.4,361.5 515.1,365.1 524.7,370.4C534.4,375.6 544,383.1 553.7,389.8C563.4,396.5 573,404 582.7,410.4C592.3,416.9 602,420.4 611.6,428.7C621.3,437 635.8,455 640.6,460.2" fill="none" stroke="#ff2020" stroke-width="1.1"/>
<polyline points="408.9,503.9 437.9,496.8 466.8,496.6 495.8,507.2 524.7,498.4 553.7,501 582.7,478.2 611.6,480.4 640.6,395.6" fill="none" stroke="#4848f4" stroke-width="1.05"/>
<circle cx="408.9" cy="338.8" r="2.9" fill="#ff2020"/><ellipse cx="408.9" cy="338.7" rx="1.6" ry="0.75" fill="#fff"/><circle cx="437.9" cy="337.6" r="2.9" fill="#ff2020"/><ellipse cx="437.9" cy="337.5" rx="1.6" ry="0.75" fill="#fff"/><circle cx="466.8" cy="344.9" r="2.9" fill="#ff2020"/><ellipse cx="466.8" cy="344.8" rx="1.6" ry="0.75" fill="#fff"/><circle cx="495.8" cy="358.2" r="2.9" fill="#ff2020"/><ellipse cx="495.8" cy="358.1" rx="1.6" ry="0.75" fill="#fff"/><circle cx="524.7" cy="375.2" r="2.9" fill="#ff2020"/><ellipse cx="524.7" cy="375.1" rx="1.6" ry="0.75" fill="#fff"/><circle cx="553.7" cy="386.2" r="2.9" fill="#ff2020"/><ellipse cx="553.7" cy="386.1" rx="1.6" ry="0.75" fill="#fff"/><circle cx="582.7" cy="425" r="2.9" fill="#ff2020"/><ellipse cx="582.7" cy="424.9" rx="1.6" ry="0.75" fill="#fff"/><circle cx="611.6" cy="442" r="2.9" fill="#ff2020"/><ellipse cx="611.6" cy="441.9" rx="1.6" ry="0.75" fill="#fff"/><circle cx="640.6" cy="507.6" r="2.9" fill="#ff2020"/><ellipse cx="640.6" cy="507.5" rx="1.6" ry="0.75" fill="#fff"/>
<polygon points="408.9,335.2 412.5,338.8 408.9,342.4 405.3,338.8" fill="#ff2020"/><polygon points="407.8,339.2 410,339.2 408.9,340.4" fill="#fff"/><polygon points="437.9,340.1 441.5,343.7 437.9,347.3 434.3,343.7" fill="#ff2020"/><polygon points="436.8,344.1 439,344.1 437.9,345.3" fill="#fff"/><polygon points="466.8,347.3 470.4,350.9 466.8,354.5 463.2,350.9" fill="#ff2020"/><polygon points="465.7,351.3 467.9,351.3 466.8,352.5" fill="#fff"/><polygon points="495.8,354.6 499.4,358.2 495.8,361.8 492.2,358.2" fill="#ff2020"/><polygon points="494.7,358.6 496.9,358.6 495.8,359.8" fill="#fff"/><polygon points="524.7,366.8 528.3,370.4 524.7,374 521.1,370.4" fill="#ff2020"/><polygon points="523.6,370.8 525.8,370.8 524.7,372" fill="#fff"/><polygon points="553.7,386.2 557.3,389.8 553.7,393.4 550.1,389.8" fill="#ff2020"/><polygon points="552.6,390.2 554.8,390.2 553.7,391.4" fill="#fff"/><polygon points="582.7,406.8 586.3,410.4 582.7,414 579.1,410.4" fill="#ff2020"/><polygon points="581.6,410.8 583.8,410.8 582.7,412" fill="#fff"/><polygon points="611.6,425.1 615.2,428.7 611.6,432.3 608,428.7" fill="#ff2020"/><polygon points="610.5,429.1 612.7,429.1 611.6,430.3" fill="#fff"/><polygon points="640.6,456.6 644.2,460.2 640.6,463.8 637,460.2" fill="#ff2020"/><polygon points="639.5,460.6 641.7,460.6 640.6,461.8" fill="#fff"/>
<g fill="#0000ff"><rect x="406" y="501" width="5.8" height="5.8" rx="0.6"/><rect x="435" y="493.9" width="5.8" height="5.8" rx="0.6"/><rect x="463.9" y="493.7" width="5.8" height="5.8" rx="0.6"/><rect x="492.9" y="504.3" width="5.8" height="5.8" rx="0.6"/><rect x="521.8" y="495.5" width="5.8" height="5.8" rx="0.6"/><rect x="550.8" y="498.1" width="5.8" height="5.8" rx="0.6"/><rect x="579.8" y="475.3" width="5.8" height="5.8" rx="0.6"/><rect x="608.7" y="477.5" width="5.8" height="5.8" rx="0.6"/><rect x="637.7" y="392.7" width="5.8" height="5.8" rx="0.6"/></g>
<text x="395.4" y="494.2" font-size="9.6" fill="#2828ff" stroke="#2828ff" stroke-width="0.12" textLength="28.4" lengthAdjust="spacingAndGlyphs">0.267%</text>
<text x="430.1" y="489" font-size="9.6" fill="#2828ff" stroke="#2828ff" stroke-width="0.12" textLength="22" lengthAdjust="spacingAndGlyphs">0.82%</text>
<text x="458.4" y="484.4" font-size="9.6" fill="#2828ff" stroke="#2828ff" stroke-width="0.12" textLength="22.3" lengthAdjust="spacingAndGlyphs">0.84%</text>
<text x="483.8" y="496.7" font-size="9.6" fill="#2828ff" stroke="#2828ff" stroke-width="0.12" textLength="27.4" lengthAdjust="spacingAndGlyphs">0.017%</text>
<text x="515.6" y="492" font-size="9.6" fill="#2828ff" stroke="#2828ff" stroke-width="0.12" textLength="18" lengthAdjust="spacingAndGlyphs">0.7%</text>
<text x="544.4" y="491" font-size="9.6" fill="#2828ff" stroke="#2828ff" stroke-width="0.12" textLength="18" lengthAdjust="spacingAndGlyphs">0.5%</text>
<text x="575.4" y="473.3" font-size="9.6" fill="#2828ff" stroke="#2828ff" stroke-width="0.12" textLength="23" lengthAdjust="spacingAndGlyphs">2.27%</text>
<text x="604.1" y="495" font-size="9.6" fill="#2828ff" stroke="#2828ff" stroke-width="0.12" textLength="18.3" lengthAdjust="spacingAndGlyphs">2.1%</text>
<text x="631" y="388.5" font-size="9.6" fill="#2828ff" stroke="#2828ff" stroke-width="0.12" textLength="24" lengthAdjust="spacingAndGlyphs">8.69%</text>
<rect x="560" y="333.7" width="92" height="29.4" fill="#000"/>
<rect x="556.8" y="330.7" width="91.9" height="29.4" fill="#fff" stroke="#333" stroke-width="0.9"/>
<line x1="560.2" y1="336" x2="575.1" y2="336" stroke="#ff2020" stroke-width="1" stroke-dasharray="3,2"/>
<circle cx="568.5" cy="336" r="2.7" fill="#ff2020"/><ellipse cx="568.5" cy="335.9" rx="1.5" ry="0.75" fill="#fff"/>
<line x1="560.2" y1="344.8" x2="575.1" y2="344.8" stroke="#ff2020" stroke-width="1"/>
<polygon points="568.5,341.4 571.9,344.8 568.5,348.2 565.1,344.8" fill="#ff2020"/><polygon points="567.4,345.2 569.6,345.2 568.5,346.4" fill="#fff"/>
<line x1="560.2" y1="354.3" x2="575.1" y2="354.3" stroke="#3030ff" stroke-width="1"/>
<rect x="565.9" y="351.7" width="5.2" height="5.2" fill="#0000ff"/>
<text x="578.6" y="338.6" font-size="6.7" fill="#222" textLength="66.5" lengthAdjust="spacing">Hardness-measured</text>
<text x="578.6" y="347.4" font-size="6.7" fill="#222" textLength="65" lengthAdjust="spacing">Hardness-simulated</text>
<text x="578.6" y="356.9" font-size="6.7" fill="#222" textLength="16.5" lengthAdjust="spacing">Error</text>
</svg></body></html>
